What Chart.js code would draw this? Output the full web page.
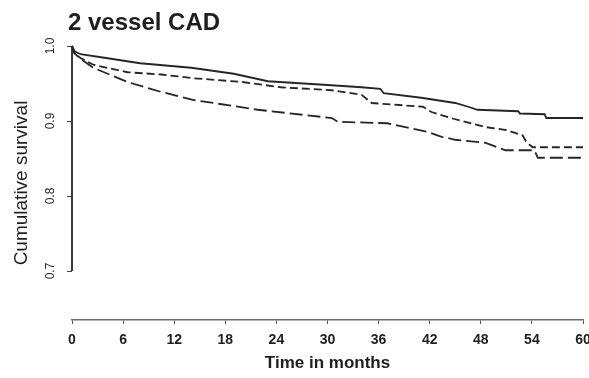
<!DOCTYPE html>
<html>
<head>
<meta charset="utf-8">
<title>2 vessel CAD</title>
<script src="https://cdn.jsdelivr.net/npm/chart.js@4.4.1/dist/chart.umd.min.js"></script>
<style>
  html, body { margin: 0; padding: 0; background: #fff; }
  #chart { display: block; }
</style>
</head>
<body>
<canvas id="chart" width="589" height="378"></canvas>
<script>
// Survival curves for 2 vessel CAD, three groups over 60 months

const monthTicks = [0, 6, 12, 18, 24, 30, 36, 42, 48, 54, 60];
const survivalTicks = [0.7, 0.8, 0.9, 1.0];

// solid curve (highest survival)
const solidMonths   = [0, 0.3, 1, 4, 8, 14, 19, 23, 30, 34, 36.2, 36.6, 41, 45, 46.8, 47.6, 52.4, 52.6, 55.5, 55.7, 60];
const solidSurvival = [1.0, 0.993, 0.989, 0.984, 0.977, 0.971, 0.963, 0.953, 0.948, 0.945, 0.943, 0.937, 0.931, 0.924, 0.918, 0.915, 0.913, 0.910, 0.909, 0.904, 0.904];

// short-dashed curve
const shortDashMonths   = [0, 0.3, 1, 2.5, 6.5, 10.5, 14.3, 20, 24.5, 30.5, 34, 35.2, 41.2, 42.2, 44.8, 48.5, 51, 52.9, 53.4, 54.1, 60];
const shortDashSurvival = [1.0, 0.99, 0.984, 0.975, 0.965, 0.962, 0.957, 0.952, 0.945, 0.941, 0.935, 0.924, 0.919, 0.912, 0.903, 0.892, 0.888, 0.881, 0.871, 0.865, 0.865];

// long-dashed curve (lowest survival for most of follow-up)
const longDashMonths   = [0, 0.3, 1, 2.5, 6.5, 10.4, 14.3, 21.8, 30.5, 31.2, 37, 41.9, 43.4, 45, 48.5, 50.9, 54.3, 54.7, 60];
const longDashSurvival = [1.0, 0.99, 0.983, 0.971, 0.952, 0.939, 0.928, 0.915, 0.904, 0.899, 0.897, 0.885, 0.879, 0.875, 0.871, 0.861, 0.861, 0.851, 0.851];

const FONT = '"Liberation Sans", Arial, sans-serif';
const INK = '#1e1e1e';

const toPoints = (xs, ys) => xs.map((x, i) => ({ x, y: ys[i] }));

function curve(xs, ys, dash) {
  return {
    data: toPoints(xs, ys),
    borderColor: '#262626',
    borderWidth: 1.8,
    borderDash: dash,
    pointRadius: 0,
    fill: false,
    tension: 0,
    clip: 8
  };
}

// heading drawn in the top-left corner
const headingPlugin = {
  id: 'heading',
  afterDraw(chart) {
    const ctx = chart.ctx;
    ctx.save();
    ctx.font = 'bold 24px ' + FONT;
    ctx.fillStyle = INK;
    ctx.textBaseline = 'alphabetic';
    ctx.fillText('2 vessel CAD', 68, 30);
    ctx.restore();
  }
};

// y axis line only spans the labelled range 0.7 - 1.0
const yAxisLinePlugin = {
  id: 'yAxisLine',
  beforeDatasetsDraw(chart) {
    const y = chart.scales.y;
    const x0 = chart.chartArea.left;
    const ctx = chart.ctx;
    ctx.save();
    ctx.strokeStyle = '#3a3a3a';
    ctx.lineWidth = 2;
    ctx.beginPath();
    ctx.moveTo(x0, y.getPixelForValue(survivalTicks[0]));
    ctx.lineTo(x0, y.getPixelForValue(survivalTicks[survivalTicks.length - 1]));
    ctx.stroke();
    ctx.restore();
  }
};

new Chart(document.getElementById('chart'), {
  type: 'line',
  data: {
    datasets: [
      curve(solidMonths, solidSurvival, []),
      curve(shortDashMonths, shortDashSurvival, [8, 4]),
      curve(longDashMonths, longDashSurvival, [13, 5])
    ]
  },
  options: {
    responsive: false,
    animation: false,
    devicePixelRatio: 1,
    layout: { padding: { top: 46, right: 6, bottom: 0, left: 0 } },
    plugins: {
      legend: { display: false },
      tooltip: { enabled: false },
      title: { display: false }
    },
    scales: {
      x: {
        type: 'linear',
        min: 0,
        max: 60,
        afterBuildTicks: (scale) => { scale.ticks = monthTicks.map(v => ({ value: v })); },
        afterFit: (scale) => {
          scale.height = 58;
          // let the "60" label run off the right edge instead of shrinking the plot
          scale.paddingLeft = 0;
          scale.paddingRight = 0;
        },
        ticks: {
          autoSkip: false,
          maxRotation: 0,
          padding: 8,
          color: INK,
          font: { family: FONT, size: 14, weight: 'bold' }
        },
        grid: { drawOnChartArea: false, drawTicks: true, tickLength: 4, color: '#555', lineWidth: 1 },
        border: { display: true, color: '#6a6a6a', width: 1.5 },
        title: {
          display: true,
          text: 'Time in months',
          color: INK,
          font: { family: FONT, size: 17, weight: 'bold' },
          padding: { top: 0, bottom: 4 }
        }
      },
      y: {
        type: 'linear',
        min: 0.6347,
        max: 1.0,
        afterBuildTicks: (scale) => { scale.ticks = survivalTicks.map(v => ({ value: v })); },
        afterFit: (scale) => { scale.width = 72; },
        ticks: {
          minRotation: 90,
          maxRotation: 90,
          crossAlign: 'center',
          padding: 8,
          color: INK,
          font: { family: FONT, size: 12 },
          callback: (v) => Number(v).toFixed(1)
        },
        grid: { drawOnChartArea: false, drawTicks: true, tickLength: 5, color: '#444', lineWidth: 1 },
        border: { display: false },
        title: {
          display: true,
          text: 'Cumulative survival',
          color: INK,
          font: { family: FONT, size: 19 },
          padding: { top: 10, bottom: 0 }
        }
      }
    }
  },
  plugins: [headingPlugin, yAxisLinePlugin]
});
</script>
</body>
</html>
